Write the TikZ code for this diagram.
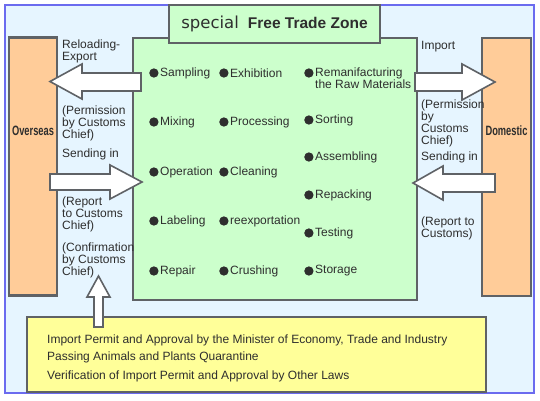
\documentclass[tikz,border=0pt]{standalone}
\usepackage{fontspec}
\usepackage{graphicx}
\setmainfont{Liberation Sans}
\newfontfamily\titlefont{DejaVu Sans}
\definecolor{frameblue}{HTML}{6B6BEF}
\definecolor{skyfill}{HTML}{E6F5FF}
\definecolor{zonegreen}{HTML}{CCFFCC}
\definecolor{sideorange}{HTML}{FFCC99}
\definecolor{noteyellow}{HTML}{FFFF99}
\definecolor{edgegrey}{HTML}{5F6266}
\definecolor{ink}{HTML}{2E2E2E}

\begin{document}
\begin{tikzpicture}[
    x=1pt, y=-1pt,
    box/.style={
        draw=edgegrey, line width=2.4pt, fill=#1, inner sep=0,
    },
    fat/.style={draw=edgegrey, line width=1.6pt, fill=white, line join=miter},
    bullet/.style={circle, fill=ink, draw=ink, line width=0.8pt, minimum size=8.4pt, inner sep=0, label distance=1.5pt},
    note/.style={anchor=west, align=left, inner sep=0, text=ink, font=\fontsize{12}{12}\selectfont},
    item/.style={note, label={[bullet, yshift=#1]left:}},
    item/.default=0pt,
    side/.style={font=\bfseries\fontsize{13.5}{14}\selectfont, text=ink},
]
\useasboundingbox (0,0) rectangle (540,400);

% ── Outer frame ──
\node[draw=frameblue, line width=1.3pt, fill=skyfill, minimum width=529pt, minimum height=388pt]
    (frame) at (269.5,199) {};

% ── Free trade zone ──
\node[box=zonegreen, minimum width=284pt, minimum height=262pt] (zone) at (275,169) {};
\node[box=zonegreen, minimum width=211pt, minimum height=38pt, text=ink] (title) at (274.5,24)
    {{\titlefont\fontsize{16.5}{17}\selectfont special}\hspace{9pt}{\bfseries\fontsize{15.5}{16}\selectfont Free Trade Zone}};

% ── Overseas / Domestic ──
\node[box=sideorange, minimum width=48pt, minimum height=258pt] (overseas) at (33,166.5) {};
\node[box=sideorange, minimum width=49pt, minimum height=258pt] (domestic) at (506.5,167) {};
\node[side] (overseaslbl) at (33,131) {\scalebox{0.69}[1]{Overseas}};
\node[side] (domesticlbl) at (506.5,131) {\scalebox{0.69}[1]{Domestic}};

% ── Left side labels ──
\node[note] (reloadlbl) at (62,51) {Reloading-\\Export};
\node[note] (permitlbl) at (62,123) {(Permission\\by Customs\\Chief)};
\node[note] (sendlbl) at (62,154) {Sending in};
\node[note] (reportlbl) at (62,214) {(Report\\to Customs\\Chief)};
\node[note] (confirmlbl) at (62,260) {(Confirmation\\by Customs\\Chief)};

% ── Right side labels ──
\node[note] (importlbl) at (421,47) {Import};
\node[note] (permitlblr) at (421,123) {(Permission\\by\\Customs\\Chief)};
\node[note] (sendlblr) at (421,157) {Sending in};
\node[note] (reportlblr) at (421,228) {(Report to\\Customs)};

% ── Activities in the zone ──
\node[item] (sampling) at (160,73) {Sampling};
\node[item] (mixing) at (160,122) {Mixing};
\node[item] (operation) at (160,172) {Operation};
\node[item] (labeling) at (160,221) {Labeling};
\node[item] (repair) at (160,271) {Repair};

\node[item] (exhibition) at (230,73) {Exhibition};
\node[item] (processing) at (230,122) {Processing};
\node[item] (cleaning) at (230,172) {Cleaning};
\node[item] (reexport) at (230,221) {reexportation};
\node[item] (crushing) at (230,271) {Crushing};

\node[item=5.5pt] (remanufact) at (315,78.5) {Remanifacturing\\the Raw Materials};
\node[item] (sorting) at (315,120) {Sorting};
\node[item] (assembling) at (315,157) {Assembling};
\node[item] (repacking) at (315,195) {Repacking};
\node[item] (testing) at (315,233) {Testing};
\node[item] (storage) at (315,271) {Storage};

% ── Block arrows ──
\draw[fat] (141,73) -- (82,73) -- (82,64) -- (50,81.5) -- (82,99) -- (82,91) -- (141,91) -- cycle;
\draw[fat] (50,174) -- (110,174) -- (110,165) -- (142,182) -- (110,199) -- (110,190) -- (50,190) -- cycle;
\draw[fat] (415,73) -- (462,73) -- (462,64) -- (495,82) -- (462,100) -- (462,91) -- (415,91) -- cycle;
\draw[fat] (495,174) -- (443,174) -- (443,166) -- (413,183) -- (443,200) -- (443,192) -- (495,192) -- cycle;

% ── Permits ──
\node[box=noteyellow, minimum width=459pt, minimum height=75pt] (permits) at (256.5,354.5) {};
\node[note] (permitline) at (47,340) {Import Permit and Approval by the Minister of Economy, Trade and Industry};
\node[note] (quarantine) at (47,357) {Passing Animals and Plants Quarantine};
\node[note] (verifyline) at (47,376) {Verification of Import Permit and Approval by Other Laws};

\draw[fat] (94,327) -- (94,297) -- (87,297) -- (98.5,276) -- (110,297) -- (103,297) -- (103,327) -- cycle;

\end{tikzpicture}
\end{document}
